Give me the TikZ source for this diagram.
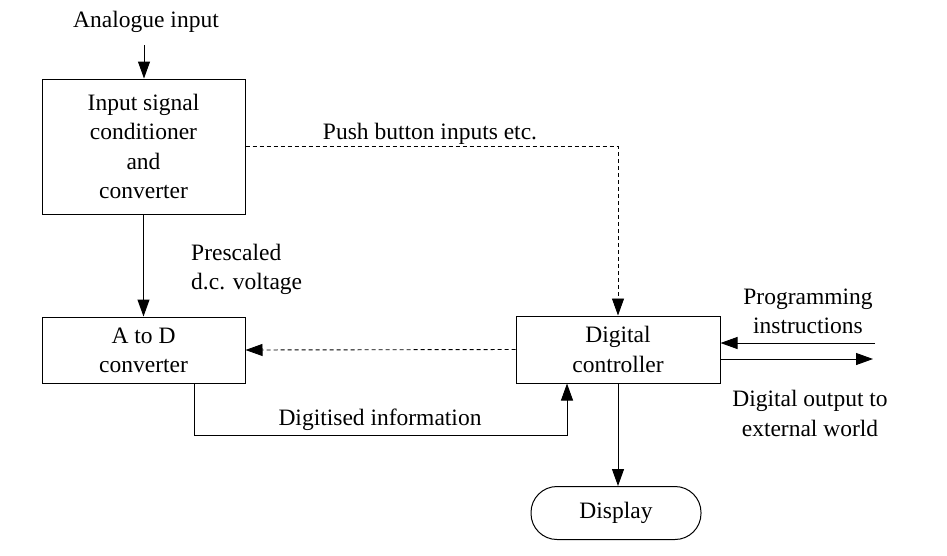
\documentclass[tikz,border=0pt]{standalone}
\usepackage{fontspec}
\setmainfont{LiberationSerif}[Extension=.ttf, UprightFont=*-Regular, BoldFont=*-Bold, ItalicFont=*-Italic]
\usetikzlibrary{arrows.meta}
\begin{document}
\begin{tikzpicture}[x=1pt,y=-1pt,
  every node/.style={font=\fontsize{23.5}{29.3}\selectfont, inner sep=0pt},
  box/.style={draw, line width=1pt, align=center},
  lbl/.style={align=center, yshift=-2.5pt},
  tip/.style={-{Triangle[length=17pt,width=12pt]}},
  arr/.style={line width=1pt, tip},
  dsh/.style={line width=0.9pt, dash pattern=on 4pt off 3pt, tip}]
\useasboundingbox (0,0) rectangle (947,555);
\node[box, minimum width=203pt, minimum height=135pt] (b1) at (143.5,146.5)
  {Input signal\\conditioner\\and\\converter};
\node[box, minimum width=203pt, minimum height=66pt] (ad) at (143.5,350)
  {A to D\\converter};
\node[box, minimum width=204pt, minimum height=67pt] (dc) at (618,349.5)
  {Digital\\controller};
\node[box, minimum width=170pt, minimum height=53pt, rounded corners=26pt] (disp) at (616,513)
  {Display};
\node[lbl] (tain) at (146,19) {Analogue input};
\node[lbl] (tpush) at (430,131) {Push button inputs etc.};
\node[lbl, align=left, anchor=west] (tpre) at (191,267) {Prescaled\\d.c. voltage};
\node[lbl] (tdig) at (380,417) {Digitised information};
\node[lbl] (tprog) at (808,309) {Programming\\instructions};
\node[lbl] (tout) at (810,411) {Digital output to\\external world};
\coordinate (ain) at (144,45);
\coordinate (dl) at (194,435);
\coordinate (pin) at (875,343);
\coordinate (pout) at (873,359);
\draw[arr] (ain) -- (ain |- b1.north);
\draw[arr] (b1) -- (ad);
\draw[dsh] (b1.east) -| (dc.north);
\draw[dsh] (dc.west) -- (ad.east);
\draw[arr] (dl |- ad.south) -- (dl) -| ([xshift=-51pt]dc.south);
\draw[arr] (pin) -- (dc.east |- pin);
\draw[arr] (dc.east |- pout) -- (pout);
\draw[arr] (dc.south) -- (dc.south |- disp.north);
\end{tikzpicture}
\end{document}
